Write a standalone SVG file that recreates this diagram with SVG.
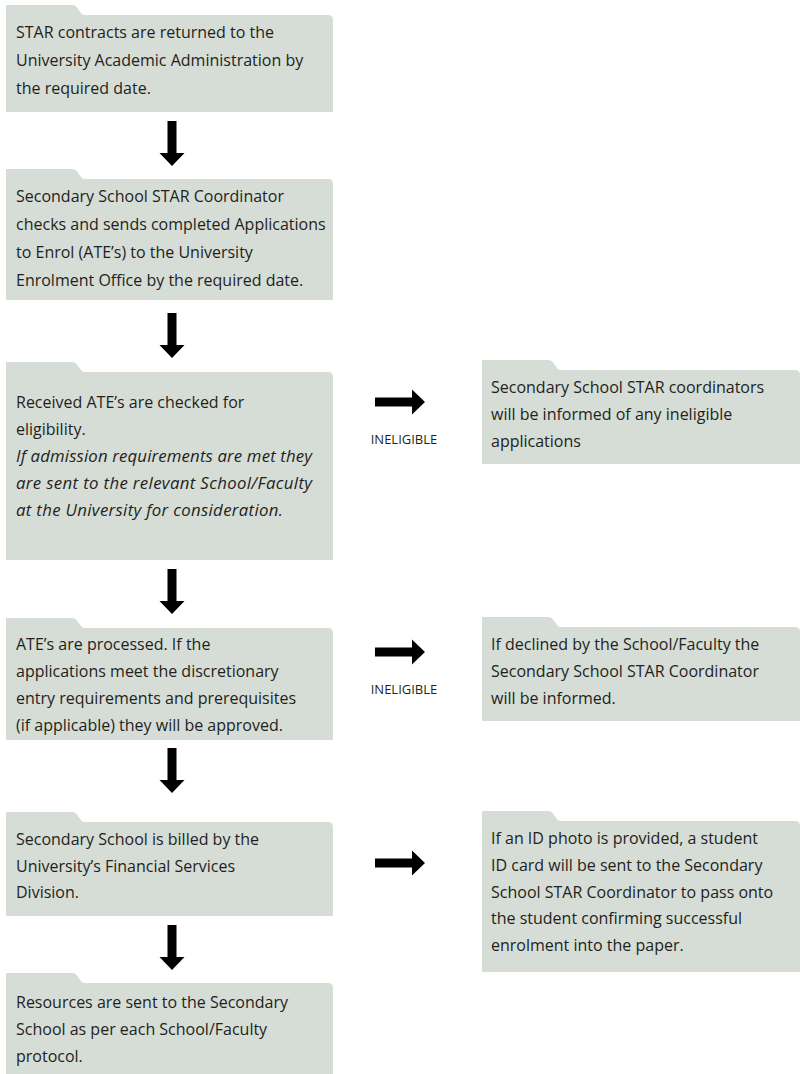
<svg xmlns="http://www.w3.org/2000/svg" xmlns:xlink="http://www.w3.org/1999/xlink" width="800" height="1074" viewBox="0 0 800 1074">
<style>
.box{fill:#d6ddd6}
.t{font-family:"Open Sans","Noto Sans",sans-serif;font-size:16px;fill:#231f20}
.i{font-style:italic;font-size:16.8px}
.lab{font-family:"Open Sans","Noto Sans",sans-serif;font-size:13px;fill:#231f20;text-anchor:middle}
.arr{fill:#000}
</style>
<defs>
<path id="adown" d="M-4.5 0 H4.5 V32 H12.5 L0 45 L-12.5 32 H-4.5 Z"/>
<path id="aright" d="M0 -4.5 V4.5 H37 V12.5 L50 0 L37 -12.5 V-4.5 Z"/>
</defs>
<rect width="800" height="1074" fill="#fff"/>

<g id="connectors" class="arr">
<use xlink:href="#adown" x="172" y="121"/>
<use xlink:href="#adown" x="172" y="313"/>
<use xlink:href="#adown" x="172" y="569"/>
<use xlink:href="#adown" x="172" y="748"/>
<use xlink:href="#adown" x="172" y="925"/>
<use xlink:href="#aright" x="375" y="402"/>
<use xlink:href="#aright" x="375" y="652"/>
<use xlink:href="#aright" x="375" y="863"/>
<text class="lab" x="404" y="444">INELIGIBLE</text>
<text class="lab" x="404" y="694">INELIGIBLE</text>
</g>

<g id="n1">
<path class="box" d="M6 112 V5 H72 Q76 5 78 9 L81 13 Q82 15 86 15 H328 Q333 15 333 20 V112 Z"/>
<text class="t" x="16" y="38">STAR contracts are returned to the</text>
<text class="t" x="16" y="66">University Academic Administration by</text>
<text class="t" x="16" y="94">the required date.</text>
</g>

<g id="n2">
<path class="box" d="M6 300 V169 H72 Q76 169 78 173 L81 177 Q82 179 86 179 H328 Q333 179 333 184 V300 Z"/>
<text class="t" x="16" y="202">Secondary School STAR Coordinator</text>
<text class="t" x="16" y="230">checks and sends completed Applications</text>
<text class="t" x="16" y="258">to Enrol (ATE’s) to the University</text>
<text class="t" x="16" y="286">Enrolment Office by the required date.</text>
</g>

<g id="n3">
<path class="box" d="M6 560 V362 H72 Q76 362 78 366 L81 370 Q82 372 86 372 H328 Q333 372 333 377 V560 Z"/>
<text class="t" x="16" y="408">Received ATE’s are checked for</text>
<text class="t" x="16" y="435">eligibility.</text>
<text class="t i" x="16" y="462" textLength="296" lengthAdjust="spacing">If admission requirements are met they</text>
<text class="t i" x="16" y="489" textLength="296" lengthAdjust="spacing">are sent to the relevant School/Faculty</text>
<text class="t i" x="16" y="516" textLength="267" lengthAdjust="spacing">at the University for consideration.</text>
</g>

<g id="n4">
<path class="box" d="M6 740 V618 H72 Q76 618 78 622 L81 626 Q82 628 86 628 H328 Q333 628 333 633 V740 Z"/>
<text class="t" x="16" y="650">ATE’s are processed. If the</text>
<text class="t" x="16" y="677">applications meet the discretionary</text>
<text class="t" x="16" y="704">entry requirements and prerequisites</text>
<text class="t" x="16" y="731">(if applicable) they will be approved.</text>
</g>

<g id="n5">
<path class="box" d="M6 916 V812 H72 Q76 812 78 816 L81 820 Q82 822 86 822 H328 Q333 822 333 827 V916 Z"/>
<text class="t" x="16" y="845">Secondary School is billed by the</text>
<text class="t" x="16" y="872">University’s Financial Services</text>
<text class="t" x="16" y="898">Division.</text>
</g>

<g id="n6">
<path class="box" d="M6 1074 V973 H72 Q76 973 78 977 L81 981 Q82 983 86 983 H328 Q333 983 333 988 V1074 Z"/>
<text class="t" x="16" y="1008">Resources are sent to the Secondary</text>
<text class="t" x="16" y="1035">School as per each School/Faculty</text>
<text class="t" x="16" y="1062">protocol.</text>
</g>

<g id="r1">
<path class="box" d="M482 464 V360 H548 Q552 360 554 364 L557 368 Q558 370 562 370 H795 Q800 370 800 375 V464 Z"/>
<text class="t" x="491" y="393">Secondary School STAR coordinators</text>
<text class="t" x="491" y="420">will be informed of any ineligible</text>
<text class="t" x="491" y="447">applications</text>
</g>

<g id="r2">
<path class="box" d="M482 721 V617 H548 Q552 617 554 621 L557 625 Q558 627 562 627 H795 Q800 627 800 632 V721 Z"/>
<text class="t" x="491" y="650">If declined by the School/Faculty the</text>
<text class="t" x="491" y="677">Secondary School STAR Coordinator</text>
<text class="t" x="491" y="704">will be informed.</text>
</g>

<g id="r3">
<path class="box" d="M482 972 V811 H548 Q552 811 554 815 L557 819 Q558 821 562 821 H795 Q800 821 800 826 V972 Z"/>
<text class="t" x="491" y="844">If an ID photo is provided, a student</text>
<text class="t" x="491" y="871">ID card will be sent to the Secondary</text>
<text class="t" x="491" y="898">School STAR Coordinator to pass onto</text>
<text class="t" x="491" y="924">the student confirming successful</text>
<text class="t" x="491" y="951">enrolment into the paper.</text>
</g>
</svg>
